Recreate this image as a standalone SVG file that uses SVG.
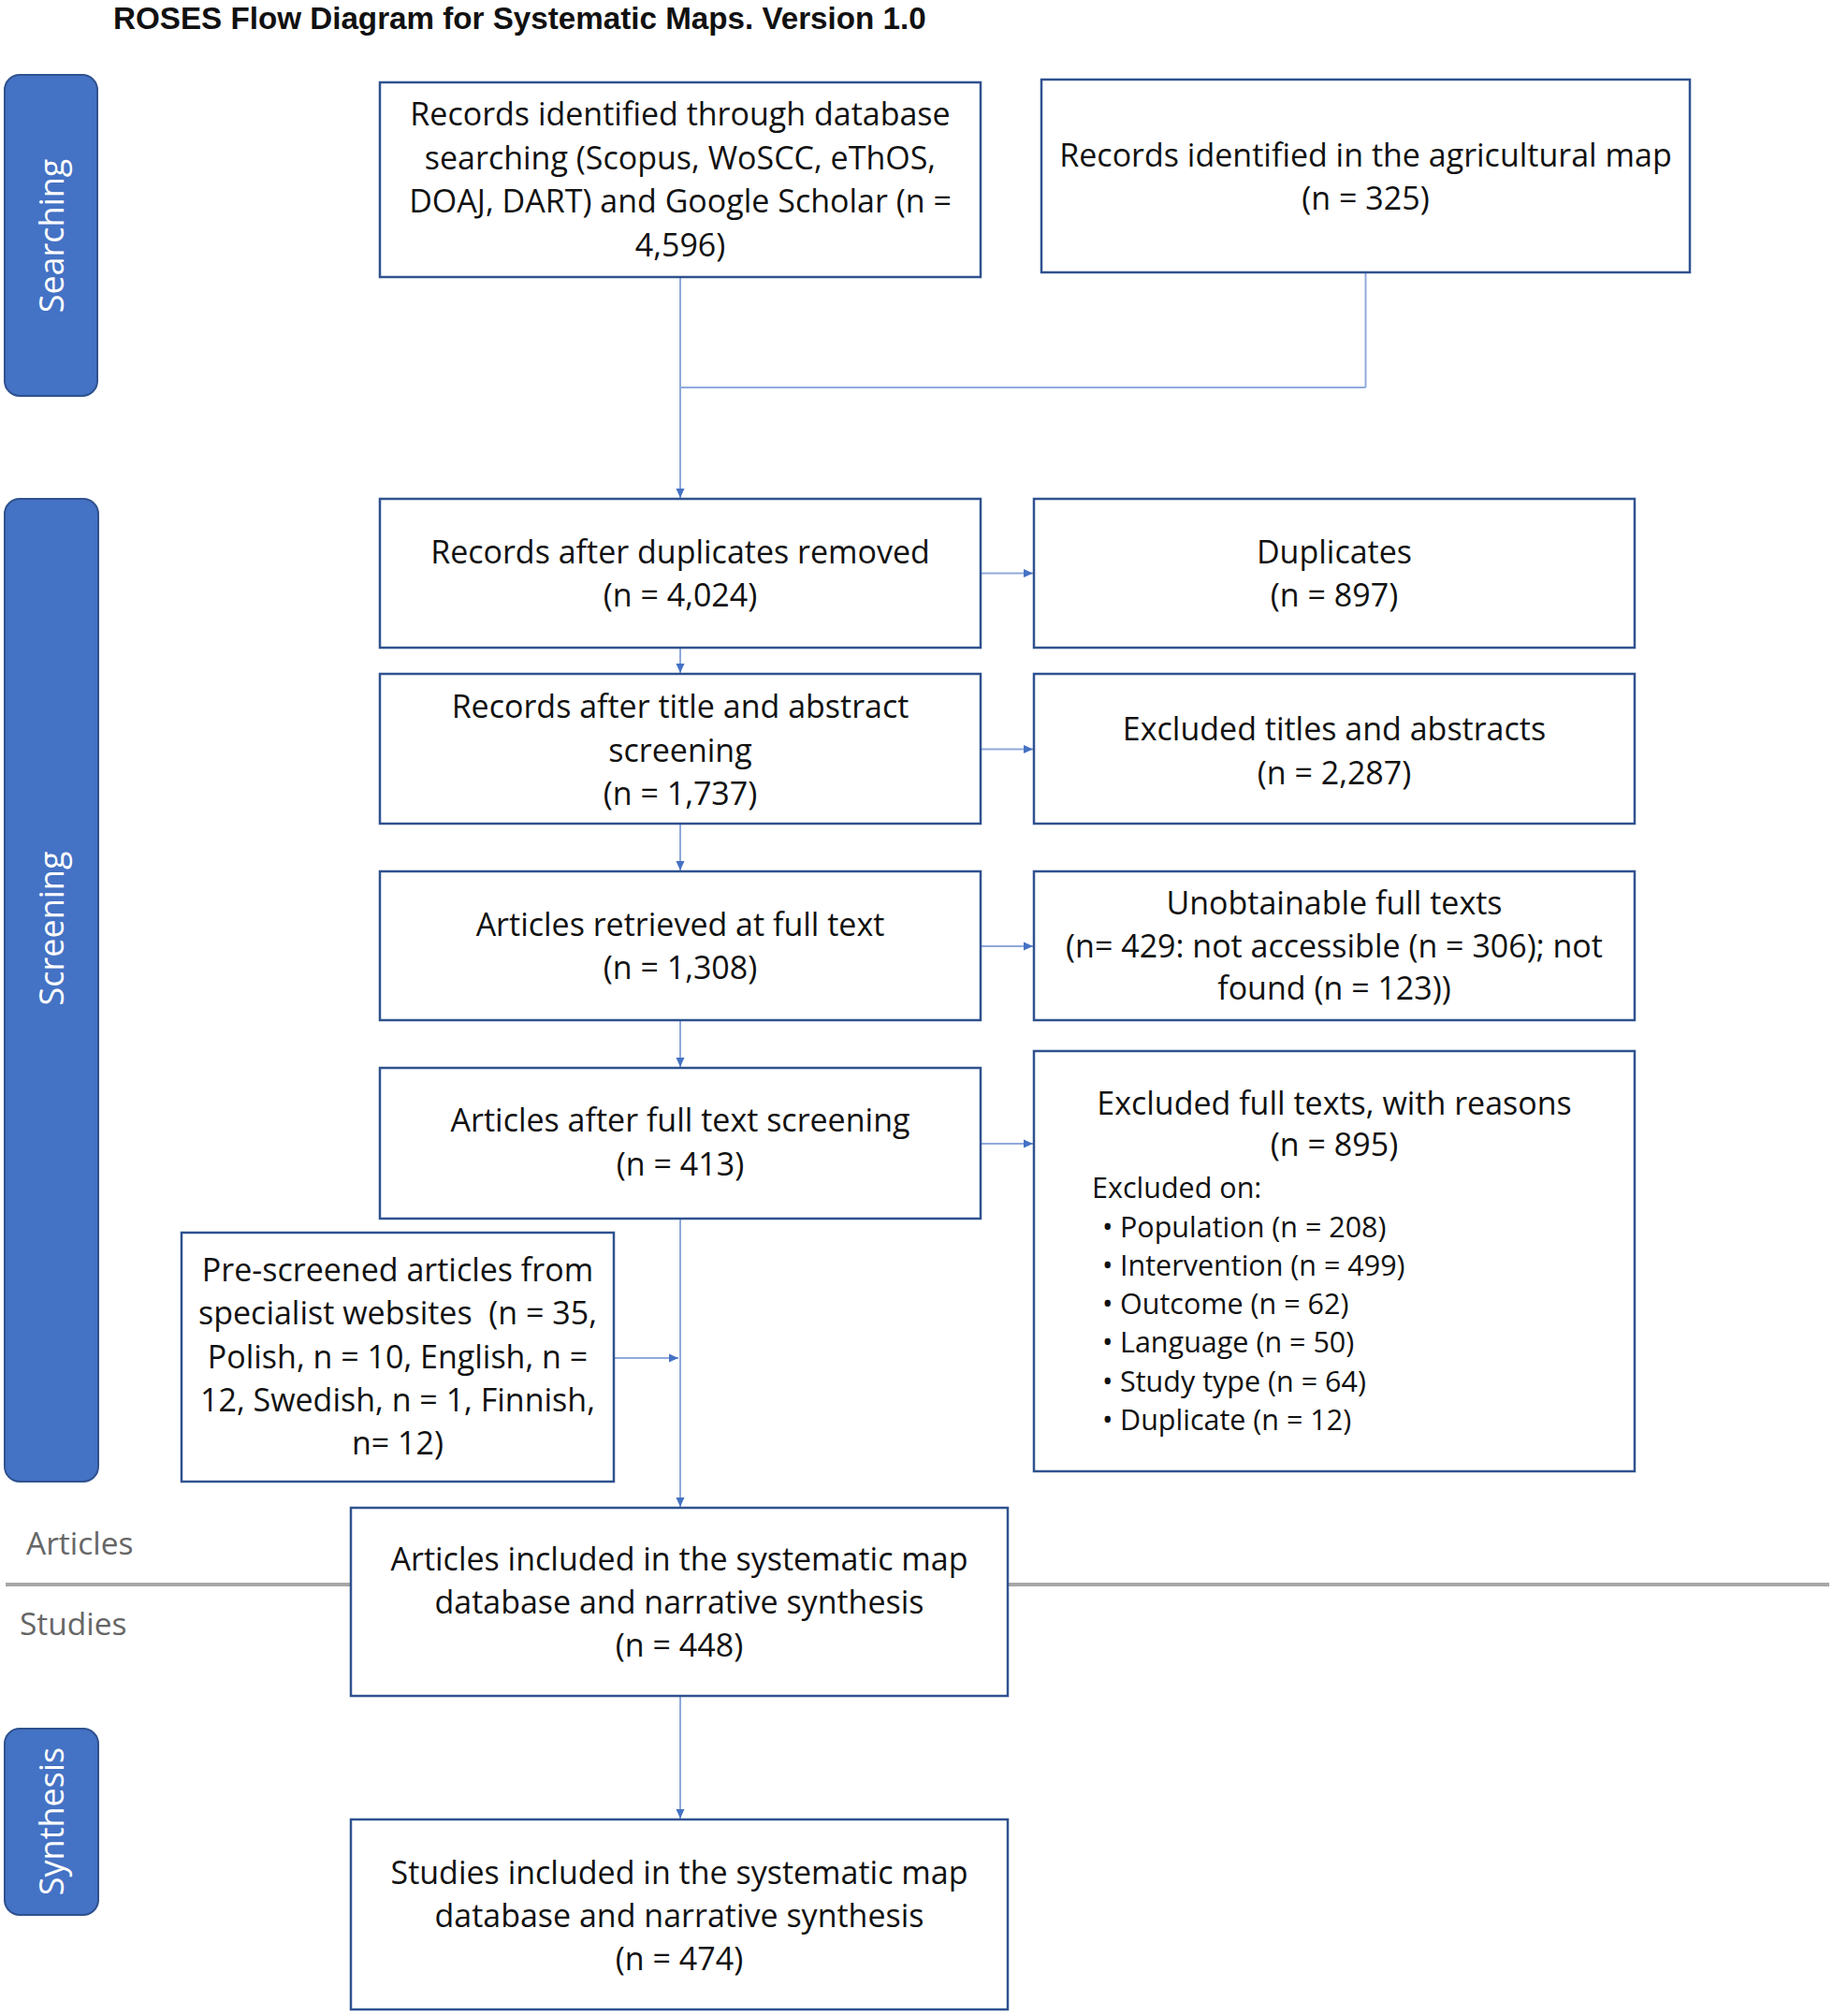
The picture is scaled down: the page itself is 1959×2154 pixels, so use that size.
<svg xmlns="http://www.w3.org/2000/svg" width="1959" height="2154" viewBox="0 0 1959 2154">
<style>
.bg{fill:#ffffff}
.box{fill:#ffffff;stroke:#2F528F;stroke-width:2.5}
.tab{fill:#4472C4;stroke:#2F528F;stroke-width:2}
.t{font-family:"Open Sans","Liberation Sans",sans-serif;font-size:34px;fill:#111111}
.s{font-family:"Open Sans","Liberation Sans",sans-serif;font-size:30.5px;fill:#111111}
.c{text-anchor:middle}
.tabt{font-family:"Open Sans","DejaVu Sans",sans-serif;font-size:36px;fill:#ffffff;text-anchor:middle}
.title{font-family:"Liberation Sans",Arial,sans-serif;font-size:33.2px;font-weight:bold;fill:#111111}
.lbl{font-family:"Open Sans","Liberation Sans",sans-serif;font-size:33.5px;fill:#666666}
.con{fill:none;stroke:#8FAADC;stroke-width:2}
.div{stroke:#A6A6A6;stroke-width:4}
</style>
<defs>
<marker id="arr" markerUnits="userSpaceOnUse" markerWidth="10" markerHeight="10" refX="10" refY="5" orient="auto">
<path d="M0,0.5 L10,5 L0,9.5 z" fill="#4472C4"/>
</marker>
</defs>
<rect class="bg" x="0" y="0" width="1959" height="2154"/>
<text class="title" x="121" y="31">ROSES Flow Diagram for Systematic Maps. Version 1.0</text>

<line class="div" x1="6" y1="1693" x2="1955" y2="1693"/>

<g id="tab-searching">
<rect class="tab" x="5" y="80" width="99" height="343" rx="16"/>
<text class="tabt" transform="translate(68,252) rotate(-90)">Searching</text>
</g>
<g id="tab-screening">
<rect class="tab" x="5" y="533" width="100" height="1050" rx="16"/>
<text class="tabt" transform="translate(68,992) rotate(-90)">Screening</text>
</g>
<g id="tab-synthesis">
<rect class="tab" x="5" y="1847" width="100" height="199" rx="16"/>
<text class="tabt" transform="translate(68,1946) rotate(-90)">Synthesis</text>
</g>

<g id="connectors">
<line class="con" x1="727" y1="296" x2="727" y2="414"/>
<line class="con" x1="1459.5" y1="291" x2="1459.5" y2="414"/>
<line class="con" x1="727" y1="414" x2="1459.5" y2="414"/>
<line class="con" x1="727" y1="414" x2="727" y2="532" marker-end="url(#arr)"/>
<line class="con" x1="727" y1="692" x2="727" y2="719" marker-end="url(#arr)"/>
<line class="con" x1="727" y1="880" x2="727" y2="930" marker-end="url(#arr)"/>
<line class="con" x1="727" y1="1090" x2="727" y2="1140" marker-end="url(#arr)"/>
<line class="con" x1="727" y1="1302" x2="727" y2="1610" marker-end="url(#arr)"/>
<line class="con" x1="656" y1="1451" x2="725" y2="1451" marker-end="url(#arr)"/>
<line class="con" x1="727" y1="1812" x2="727" y2="1943" marker-end="url(#arr)"/>
<line class="con" x1="1049" y1="612.5" x2="1104" y2="612.5" marker-end="url(#arr)"/>
<line class="con" x1="1049" y1="800.5" x2="1104" y2="800.5" marker-end="url(#arr)"/>
<line class="con" x1="1049" y1="1011" x2="1104" y2="1011" marker-end="url(#arr)"/>
<line class="con" x1="1049" y1="1222" x2="1104" y2="1222" marker-end="url(#arr)"/>
</g>

<g id="node-database">
<rect class="box" x="406" y="88" width="642" height="208"/>
<text class="t c" x="727" y="134">Records identified through database</text>
<text class="t c" x="727" y="180.5">searching (Scopus, WoSCC, eThOS,</text>
<text class="t c" x="727" y="227">DOAJ, DART) and Google Scholar (n =</text>
<text class="t c" x="727" y="273.5">4,596)</text>
</g>
<g id="node-agri">
<rect class="box" x="1113" y="85" width="693" height="206"/>
<text class="t c" x="1459.5" y="177.5">Records identified in the agricultural map</text>
<text class="t c" x="1459.5" y="224">(n = 325)</text>
</g>
<g id="node-dedup">
<rect class="box" x="406" y="533" width="642" height="159"/>
<text class="t c" x="727" y="601.5">Records after duplicates removed</text>
<text class="t c" x="727" y="647.5">(n = 4,024)</text>
</g>
<g id="node-duplicates">
<rect class="box" x="1105" y="533" width="642" height="159"/>
<text class="t c" x="1426" y="601.5">Duplicates</text>
<text class="t c" x="1426" y="647.5">(n = 897)</text>
</g>
<g id="node-title-abstract">
<rect class="box" x="406" y="720" width="642" height="160"/>
<text class="t c" x="727" y="767">Records after title and abstract</text>
<text class="t c" x="727" y="813.5">screening</text>
<text class="t c" x="727" y="860">(n = 1,737)</text>
</g>
<g id="node-excluded-ta">
<rect class="box" x="1105" y="720" width="642" height="160"/>
<text class="t c" x="1426" y="791">Excluded titles and abstracts</text>
<text class="t c" x="1426" y="837.5">(n = 2,287)</text>
</g>
<g id="node-retrieved">
<rect class="box" x="406" y="931" width="642" height="159"/>
<text class="t c" x="727" y="999.5">Articles retrieved at full text</text>
<text class="t c" x="727" y="1045.5">(n = 1,308)</text>
</g>
<g id="node-unobtainable">
<rect class="box" x="1105" y="931" width="642" height="159"/>
<text class="t c" x="1426" y="977">Unobtainable full texts</text>
<text class="t c" x="1426" y="1022.5">(n= 429: not accessible (n = 306); not</text>
<text class="t c" x="1426" y="1068">found (n = 123))</text>
</g>
<g id="node-fulltext">
<rect class="box" x="406" y="1141" width="642" height="161"/>
<text class="t c" x="727" y="1209">Articles after full text screening</text>
<text class="t c" x="727" y="1255.5">(n = 413)</text>
</g>
<g id="node-excluded-ft">
<rect class="box" x="1105" y="1123" width="642" height="449"/>
<text class="t c" x="1426" y="1191">Excluded full texts, with reasons</text>
<text class="t c" x="1426" y="1235">(n = 895)</text>
<text class="s" x="1167" y="1280">Excluded on:</text>
<text class="s" y="1321.5"><tspan x="1178">•</tspan><tspan x="1197">Population (n = 208)</tspan></text>
<text class="s" y="1363"><tspan x="1178">•</tspan><tspan x="1197">Intervention (n = 499)</tspan></text>
<text class="s" y="1404"><tspan x="1178">•</tspan><tspan x="1197">Outcome (n = 62)</tspan></text>
<text class="s" y="1445"><tspan x="1178">•</tspan><tspan x="1197">Language (n = 50)</tspan></text>
<text class="s" y="1486.5"><tspan x="1178">•</tspan><tspan x="1197">Study type (n = 64)</tspan></text>
<text class="s" y="1528"><tspan x="1178">•</tspan><tspan x="1197">Duplicate (n = 12)</tspan></text>
</g>
<g id="node-prescreened">
<rect class="box" x="194" y="1317" width="462" height="266"/>
<text class="t c" x="425" y="1368.5">Pre-screened articles from</text>
<text class="t c" x="425" y="1415" style="white-space:pre">specialist websites  (n = 35,</text>
<text class="t c" x="425" y="1461.5">Polish, n = 10, English, n =</text>
<text class="t c" x="425" y="1508">12, Swedish, n = 1, Finnish,</text>
<text class="t c" x="425" y="1554">n= 12)</text>
</g>
<g id="node-articles-included">
<rect class="box" x="375" y="1611" width="702" height="201"/>
<text class="t c" x="726" y="1678">Articles included in the systematic map</text>
<text class="t c" x="726" y="1724">database and narrative synthesis</text>
<text class="t c" x="726" y="1770">(n = 448)</text>
</g>
<g id="node-studies-included">
<rect class="box" x="375" y="1944" width="702" height="203"/>
<text class="t c" x="726" y="2013">Studies included in the systematic map</text>
<text class="t c" x="726" y="2059">database and narrative synthesis</text>
<text class="t c" x="726" y="2104.5">(n = 474)</text>
</g>
<text class="lbl" x="28" y="1660.5">Articles</text>
<text class="lbl" x="21" y="1746.5">Studies</text>
</svg>
